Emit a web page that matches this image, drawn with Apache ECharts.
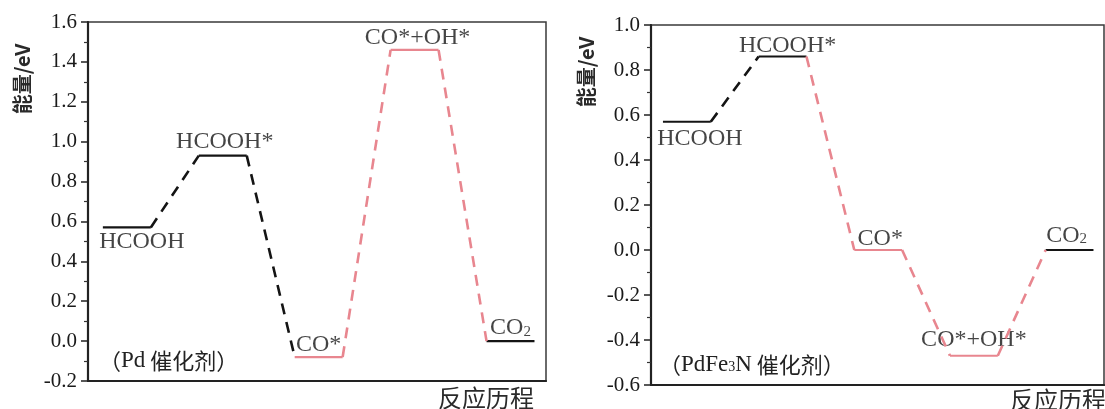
<!DOCTYPE html>
<html>
<head>
<meta charset="utf-8">
<script src="https://cdn.jsdelivr.net/npm/echarts@6/dist/echarts.min.js"></script>
<style>
html,body{margin:0;padding:0;background:#fff;}
#chart{width:1105px;height:409px;}
</style>
</head>
<body>
<div id="chart"></div>
<script>
// ---------------- data ----------------
const categories = ['HCOOH', 'HCOOH*', 'CO*', 'CO*+OH*', 'CO2'];
const pdEnergy = [0.57, 0.93, -0.08, 1.46, 0.00];
const pdFe3NEnergy = [0.57, 0.86, 0.00, -0.47, 0.00];
const pdTicks = { min: -0.2, max: 1.6, step: 0.2 };
const pdFe3NTicks = { min: -0.6, max: 1.0, step: 0.2 };
const pdCatalyst = 'Pd';
const pdFe3NCatalyst = 'PdFe3N';
const yName = '能量/eV';
const xName = '反应历程';

// ---------------- styles / layout ----------------
const BLACK = '#141414';
const PINK = '#e8868f';
const SERIF = '"Liberation Serif", "DejaVu Serif", serif';
const CJK = '"Noto Sans CJK SC", "Noto Sans", sans-serif';

const charts = [
  {
    energy: pdEnergy, ticks: pdTicks,
    grid: { left: 88, top: 22, width: 458, height: 359 },
    xRange: [-0.31, 9.24],
    levelColor: [BLACK, BLACK, PINK, PINK, BLACK],
    linkColor: [BLACK, BLACK, PINK, PINK],
    labels: [
      { pos: 'bottom', dx: 15, dist: 2 },
      { pos: 'top', dx: 2, dist: 2 },
      { pos: 'top', dx: 0, dist: 0 },
      { pos: 'top', dx: 3, dist: 0 },
      { pos: 'top', dx: 0, dist: 1 }
    ],
    yNamePos: [22, 79],
    xNamePos: [534, 398],
    catPos: [99, 361],
    catalyst: pdCatalyst
  },
  {
    energy: pdFe3NEnergy, ticks: pdFe3NTicks,
    grid: { left: 651, top: 25, width: 453, height: 360 },
    xRange: [-0.25, 9.22],
    levelColor: [BLACK, BLACK, PINK, PINK, BLACK],
    linkColor: [BLACK, PINK, PINK, PINK],
    labels: [
      { pos: 'bottom', dx: 13, dist: 5 },
      { pos: 'top', dx: 5, dist: -1 },
      { pos: 'top', dx: 2, dist: -1 },
      { pos: 'top', dx: 0, dist: 4 },
      { pos: 'top', dx: -3, dist: 2 }
    ],
    yNamePos: [586, 72],
    xNamePos: [1106, 400],
    catPos: [659, 365],
    catalyst: pdFe3NCatalyst
  }
];

// build rich-text tokens with subscript digits (CO2, Fe3N)
function richName(name, normal) {
  const parts = name.split(/(\d)/).filter(p => p.length);
  return parts.map(p => /^\d$/.test(p) ? '{s|' + p + '}' : '{' + normal + '|' + p + '}').join('');
}

const grids = [], xAxes = [], yAxes = [], series = [], graphics = [];

charts.forEach((c, k) => {
  grids.push(Object.assign({ show: true, borderColor: '#3a3a3a', borderWidth: 1.5, backgroundColor: 'transparent' }, c.grid));
  xAxes.push({
    type: 'value', gridIndex: k, min: c.xRange[0], max: c.xRange[1],
    axisLine: { show: true, onZero: false, lineStyle: { color: '#222', width: 2.2 } },
    axisTick: { show: false }, axisLabel: { show: false }, splitLine: { show: false }
  });
  yAxes.push({
    type: 'value', gridIndex: k, min: c.ticks.min, max: c.ticks.max, interval: c.ticks.step,
    axisLine: { show: true, onZero: false, lineStyle: { color: '#222', width: 2.2 } },
    axisTick: { show: true, inside: false, length: 7, lineStyle: { color: '#222', width: 1.5 } },
    minorTick: { show: true, splitNumber: 2, length: 4, lineStyle: { color: '#333', width: 1.2 } },
    splitLine: { show: false },
    axisLabel: {
      margin: 11, color: '#1a1a1a', fontFamily: SERIF, fontSize: 21,
      formatter: v => (Math.abs(v) < 1e-9 ? 0 : v).toFixed(1)
    }
  });

  const e = c.energy;
  // energy levels
  e.forEach((v, i) => {
    series.push({
      type: 'line', xAxisIndex: k, yAxisIndex: k, symbol: 'none', silent: true,
      data: [[2 * i, v], [2 * i + 1, v]],
      lineStyle: { color: c.levelColor[i], width: 2.2, type: 'solid' }
    });
  });
  // dashed connectors
  for (let i = 0; i < e.length - 1; i++) {
    series.push({
      type: 'line', xAxisIndex: k, yAxisIndex: k, symbol: 'none', silent: true,
      data: [[2 * i + 1, e[i]], [2 * i + 2, e[i + 1]]],
      lineStyle: { color: c.linkColor[i], width: 2.6, type: [11, 8] }
    });
  }
  // state labels
  series.push({
    type: 'scatter', xAxisIndex: k, yAxisIndex: k, symbolSize: 0, silent: true,
    data: e.map((v, i) => ({
      value: [2 * i + 0.5, v],
      label: {
        show: true, position: c.labels[i].pos, distance: c.labels[i].dist,
        offset: [c.labels[i].dx, 0],
        formatter: richName(categories[i], 'n'),
        rich: {
          n: { fontFamily: SERIF, fontSize: 24, color: '#151515' },
          s: { fontFamily: SERIF, fontSize: 15, color: '#151515', verticalAlign: 'bottom', padding: [0, 0, 1, 0] }
        }
      }
    }))
  });

  // axis name (vertical)
  graphics.push({
    type: 'text', x: c.yNamePos[0], y: c.yNamePos[1], rotation: Math.PI / 2,
    style: { text: yName, font: 'bold 20px ' + CJK, fill: '#2a2a2a', textAlign: 'center', textVerticalAlign: 'middle' }
  });
  // x name
  graphics.push({
    type: 'text', x: c.xNamePos[0], y: c.xNamePos[1],
    style: { text: xName, font: '24px ' + CJK, fill: '#2a2a2a', textAlign: 'right', textVerticalAlign: 'middle' }
  });
  // catalyst label
  graphics.push({
    type: 'text', x: c.catPos[0], y: c.catPos[1],
    style: {
      text: '{c|（}' + richName(c.catalyst, 'n') + '{c| 催化剂）}',
      textVerticalAlign: 'middle', textAlign: 'left',
      rich: {
        c: { fontFamily: CJK, fontSize: 22, fill: '#222' },
        n: { fontFamily: SERIF, fontSize: 23, fill: '#222' },
        s: { fontFamily: SERIF, fontSize: 14, fill: '#222', verticalAlign: 'bottom', padding: [0, 0, 2, 0] }
      }
    }
  });
});

const chart = echarts.init(document.getElementById('chart'), null, { renderer: 'canvas' });
chart.setOption({
  animation: false,
  backgroundColor: '#fff',
  grid: grids, xAxis: xAxes, yAxis: yAxes, series: series, graphic: graphics
});
</script>
</body>
</html>
